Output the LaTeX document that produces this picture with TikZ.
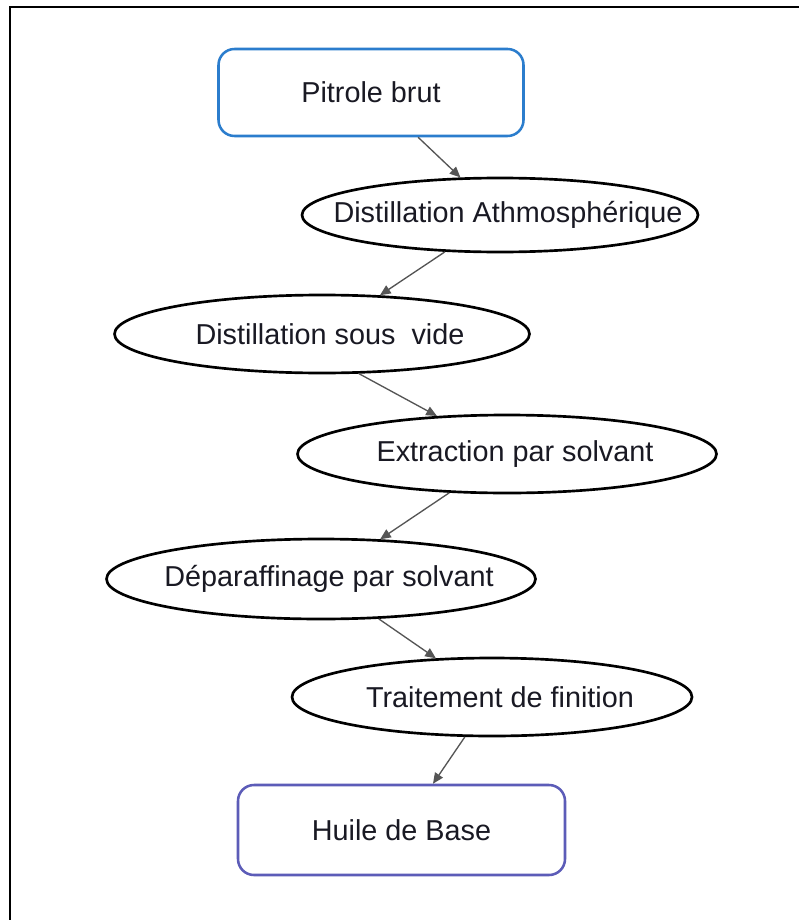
\documentclass[tikz,border=0pt]{standalone}
\usepackage{fontspec}
\setmainfont{Liberation Sans}
\usetikzlibrary{shapes.geometric,arrows.meta}
\definecolor{boxblue}{RGB}{43,125,205}
\definecolor{boxviolet}{RGB}{92,92,184}
\definecolor{linkgray}{RGB}{85,85,85}
\definecolor{labelink}{RGB}{25,25,35}
\tikzset{
  lbl/.style={font=\fontsize{21.6pt}{24pt}\selectfont, text=labelink},
  endbox/.style={lbl, draw=#1, line width=1.9pt, rounded corners=12pt,
    rectangle, inner sep=0pt, align=center},
  stage/.style={lbl, draw=black, line width=2pt, ellipse, inner sep=0pt},
  link/.style={draw=linkgray, line width=1pt, -{Triangle[length=8pt,width=7pt]}},
  frameline/.style={draw=black, line width=1.6pt}
}
\newcommand{\stagetext}[1]{\makebox[0pt]{\hspace*{12pt}\raisebox{-2pt}{#1}}}
\begin{document}
\begin{tikzpicture}[x=0.75pt,y=-0.75pt]
  \useasboundingbox (0,0) rectangle (799,920);
  \fill[white] (0,0) rectangle (799,920);

  % page frame (left and top edges)
  \coordinate (fb) at (10,920);
  \coordinate (fc) at (10,7);
  \coordinate (fr) at (799,7);
  \draw[frameline] (fb) -- (fc) -- (fr);

  % process nodes
  \node[endbox=boxblue, minimum width=228.75pt, minimum height=65.25pt] (pit) at (371,92.5) {Pitrole brut};
  \node[stage, minimum width=297pt, minimum height=55.5pt] (e1) at (500,215) {\stagetext{Distillation Athmosphérique}};
  \node[stage, minimum width=311.25pt, minimum height=58.5pt] (e2) at (322,334) {\stagetext{Distillation sous~ vide}};
  \node[stage, minimum width=314.25pt, minimum height=58.5pt] (e3) at (507,454) {\stagetext{Extraction par solvant}};
  \node[stage, minimum width=321.75pt, minimum height=60pt] (e4) at (321,579) {\stagetext{Déparaffinage par solvant}};
  \node[stage, minimum width=300pt, minimum height=58.5pt] (e5) at (492,697) {\stagetext{Traitement de finition}};
  \node[endbox=boxviolet, minimum width=245.25pt, minimum height=67.5pt] (hb) at (401.5,830) {Huile de Base};

  % connectors
  \draw[link] (pit) -- (e1);
  \draw[link] (e1) -- (e2);
  \draw[link] (e2.-47) -- (e3);
  \draw[link] (e3) -- (e4);
  \draw[link] (e4) -- (e5);
  \draw[link] (e5) -- (hb);
\end{tikzpicture}
\end{document}
